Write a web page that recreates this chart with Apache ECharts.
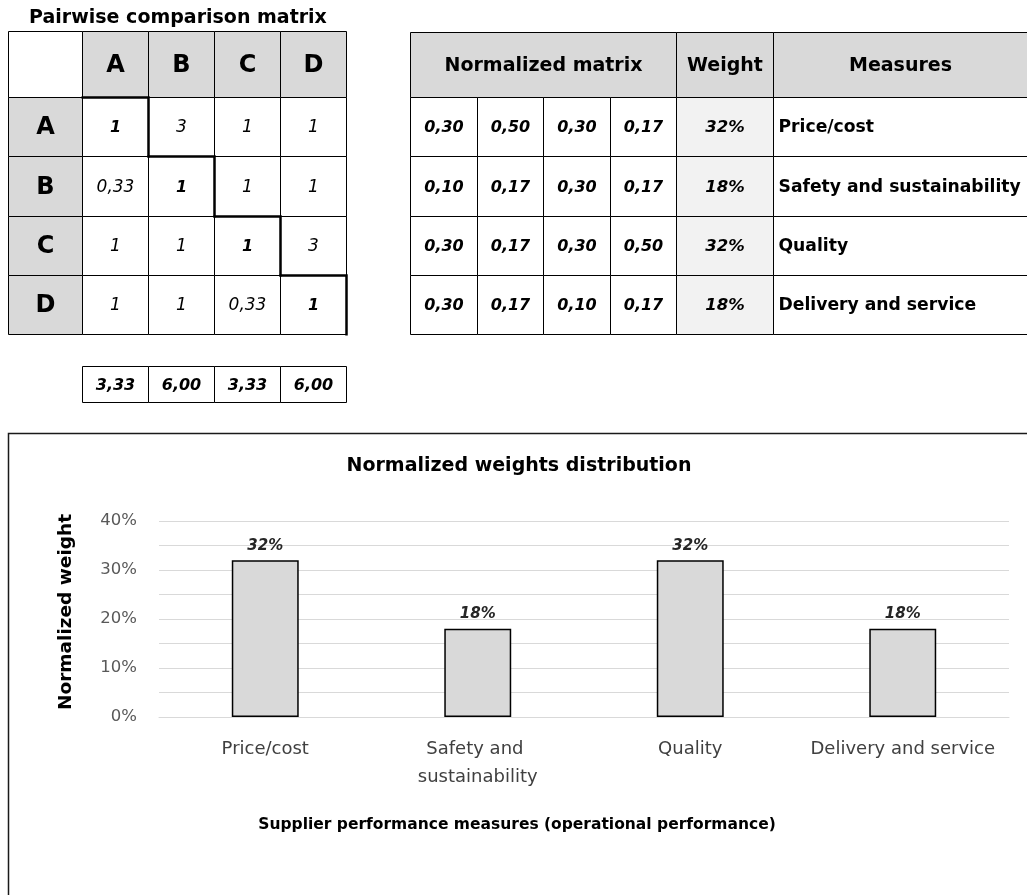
<!DOCTYPE html>
<html>
<head>
<meta charset="utf-8">
<script src="https://cdn.jsdelivr.net/npm/echarts@6/dist/echarts.min.js"></script>
<style>
  html, body { margin: 0; padding: 0; background: #fff; }
  #main { width: 1027px; height: 895px; }
</style>
</head>
<body>
<div id="main"></div>
<script>
// ---- Data ----
const criteria = ['A', 'B', 'C', 'D'];
const pairwise = [
  [1, 3, 1, 1],
  [0.33, 1, 1, 1],
  [1, 1, 1, 3],
  [1, 1, 0.33, 1]
];
const columnSums = [3.33, 6.00, 3.33, 6.00];
const normalized = [
  [0.30, 0.50, 0.30, 0.17],
  [0.10, 0.17, 0.30, 0.17],
  [0.30, 0.17, 0.30, 0.50],
  [0.30, 0.17, 0.10, 0.17]
];
const weights = [0.32, 0.18, 0.32, 0.18];
const measures = ['Price/cost', 'Safety and sustainability', 'Quality', 'Delivery and service'];
const tableHeaders = ['Normalized matrix', 'Weight', 'Measures'];
const tableTitle = 'Pairwise comparison matrix';
const chartTitle = 'Normalized weights distribution';
const yAxisTitle = 'Normalized weight';
const xAxisTitle = 'Supplier performance measures (operational performance)';

// ---- Formatting helpers ----
const FONT = 'DejaVu Sans';
const comma = (v, d) => v.toFixed(d).replace('.', ',');
const fmtPair = v => Number.isInteger(v) ? String(v) : comma(v, 2);
const fmtPct = v => Math.round(v * 100) + '%';
const range = n => Array.from({ length: n }, (_, i) => String(i));

const chart = echarts.init(document.getElementById('main'));

const grids = [];
const xAxes = [];
const yAxes = [];
const series = [];

// Bar chart grid (index 0)
grids.push({ left: 159, right: 18, top: 521, bottom: 178 });
xAxes.push({
  gridIndex: 0,
  type: 'category',
  data: measures,
  axisTick: { show: false },
  axisLine: { lineStyle: { color: '#d9d9d9', width: 1 } },
  axisLabel: {
    interval: 0, hideOverlap: false,
    color: '#404040', fontFamily: FONT, fontSize: 18, margin: 18,
    width: 205, overflow: 'break', lineHeight: 28
  },
  name: xAxisTitle,
  nameLocation: 'middle',
  nameGap: 100,
  nameTextStyle: {
    color: '#000', fontFamily: FONT, fontWeight: 'bold', fontSize: 15.5,
    padding: [0, 134, 0, 0]
  }
});
yAxes.push({
  gridIndex: 0,
  type: 'value',
  min: 0, max: 0.4, interval: 0.05,
  axisLine: { show: false },
  axisTick: { show: false },
  axisLabel: {
    color: '#595959', fontFamily: FONT, fontSize: 16.5, margin: 22,
    formatter: v => (Math.round(v * 100) % 10 === 0 ? Math.round(v * 100) + '%' : '')
  },
  splitLine: { lineStyle: { color: '#d9d9d9', width: 1 } },
  name: yAxisTitle,
  nameLocation: 'middle',
  nameGap: 83,
  nameTextStyle: {
    color: '#000', fontFamily: FONT, fontWeight: 'bold', fontSize: 18.5,
    padding: [0, 0, 0, 14]
  }
});
series.push({
  type: 'bar',
  xAxisIndex: 0, yAxisIndex: 0,
  data: weights,
  barWidth: '31.5%',
  itemStyle: { color: '#d9d9d9', borderColor: '#000', borderWidth: 1.5 },
  label: {
    show: true, position: 'top', distance: 7,
    color: '#262626', fontFamily: FONT, fontWeight: 'bold', fontStyle: 'italic', fontSize: 15,
    formatter: p => fmtPct(p.value)
  },
  silent: true
});

// ---- Table builder: every table block is a grid of hidden category axes ----
const crisp = v => Math.round(v) + 0.5;

function addTable(box, nCols, nRows, cells) {
  const gi = grids.length;
  grids.push({ left: box[0], top: box[1], width: box[2], height: box[3] });
  xAxes.push({ gridIndex: gi, type: 'category', data: range(nCols), show: false, boundaryGap: true });
  yAxes.push({ gridIndex: gi, type: 'category', data: range(nRows), show: false, inverse: true, boundaryGap: true });
  series.push({
    type: 'custom',
    xAxisIndex: gi, yAxisIndex: gi,
    silent: true,
    data: cells.map(c => [c.col, c.row]),
    renderItem: (params, api) => {
      const cell = cells[params.dataIndex];
      const c = api.coord([api.value(0), api.value(1)]);
      const s = api.size([1, 1]);
      const x0 = crisp(c[0] - s[0] / 2), x1 = crisp(c[0] + s[0] / 2);
      const y0 = crisp(c[1] - s[1] / 2), y1 = crisp(c[1] + s[1] / 2);
      const children = [
        {
          type: 'rect',
          shape: { x: x0, y: y0, width: x1 - x0, height: y1 - y0 },
          style: { fill: cell.fill || '#fff', stroke: '#000', lineWidth: 1 }
        }
      ];
      if (cell.text !== undefined && cell.text !== '') {
        const left = cell.align === 'left';
        children.push({
          type: 'text',
          z2: 5,
          style: {
            text: cell.text,
            x: left ? x0 + 5 : (x0 + x1) / 2,
            y: (y0 + y1) / 2 + 1,
            align: left ? 'left' : 'center',
            verticalAlign: 'middle',
            fill: '#000',
            fontFamily: FONT,
            fontSize: cell.size || 16,
            fontWeight: cell.bold ? 'bold' : 'normal',
            fontStyle: cell.italic ? 'italic' : 'normal'
          }
        });
      }
      if (cell.step) {
        // staircase along the diagonal: heavy top and right edges
        children.push({
          type: 'polyline', z2: 10,
          shape: { points: [[x0 - 1, y0], [x1, y0], [x1, y1 + 1]] },
          style: { stroke: '#000', lineWidth: 2.5, fill: null }
        });
      }
      return { type: 'group', children };
    }
  });
}

// Pairwise comparison matrix
addTable([8, 31, 74, 66], 1, 1, [{ col: 0, row: 0, text: '' }]);
addTable([82, 31, 264, 66], 4, 1,
  criteria.map((t, i) => ({ col: i, row: 0, text: t, fill: '#d9d9d9', bold: true, size: 24 })));
addTable([8, 97, 74, 237], 1, 4,
  criteria.map((t, i) => ({ col: 0, row: i, text: t, fill: '#d9d9d9', bold: true, size: 24 })));
{
  const cells = [];
  pairwise.forEach((rowVals, r) => rowVals.forEach((v, c) => {
    cells.push({ col: c, row: r, text: fmtPair(v), italic: true, bold: r === c, size: r === c ? 16 : 17, step: r === c });
  }));
  addTable([82, 97, 264, 237], 4, 4, cells);
}
addTable([82, 366, 264, 36], 4, 1,
  columnSums.map((v, i) => ({ col: i, row: 0, text: comma(v, 2), bold: true, italic: true, size: 16 })));

// Normalized matrix, weights and measures
addTable([410, 32, 266, 65], 1, 1, [{ col: 0, row: 0, text: tableHeaders[0], fill: '#d9d9d9', bold: true, size: 19 }]);
addTable([676, 32, 97, 65], 1, 1, [{ col: 0, row: 0, text: tableHeaders[1], fill: '#d9d9d9', bold: true, size: 19 }]);
addTable([773, 32, 262, 65], 1, 1, [{ col: 0, row: 0, text: tableHeaders[2], fill: '#d9d9d9', bold: true, size: 19 }]);
{
  const cells = [];
  normalized.forEach((rowVals, r) => rowVals.forEach((v, c) => {
    cells.push({ col: c, row: r, text: comma(v, 2), bold: true, italic: true, size: 16 });
  }));
  addTable([410, 97, 266, 237], 4, 4, cells);
}
addTable([676, 97, 97, 237], 1, 4,
  weights.map((v, i) => ({ col: 0, row: i, text: fmtPct(v), fill: '#f2f2f2', bold: true, italic: true, size: 16.5 })));
addTable([773, 97, 262, 237], 1, 4,
  measures.map((t, i) => ({ col: 0, row: i, text: t, bold: true, size: 17.2, align: 'left' })));

chart.setOption({
  animation: false,
  backgroundColor: '#fff',
  title: [
    {
      text: tableTitle, left: 178, top: 9, textAlign: 'center', padding: 0,
      textStyle: { fontFamily: FONT, fontWeight: 'bold', fontSize: 19, color: '#000' }
    },
    {
      text: chartTitle, left: 519, top: 457, textAlign: 'center', padding: 0,
      textStyle: { fontFamily: FONT, fontWeight: 'bold', fontSize: 19, color: '#000' }
    }
  ],
  graphic: [
    {
      type: 'rect', z: -1,
      shape: { x: 8.5, y: 433.5, width: 1040, height: 480 },
      style: { fill: null, stroke: '#1a1a1a', lineWidth: 1.5 }
    }
  ],
  grid: grids,
  xAxis: xAxes,
  yAxis: yAxes,
  series: series
});
</script>
</body>
</html>
